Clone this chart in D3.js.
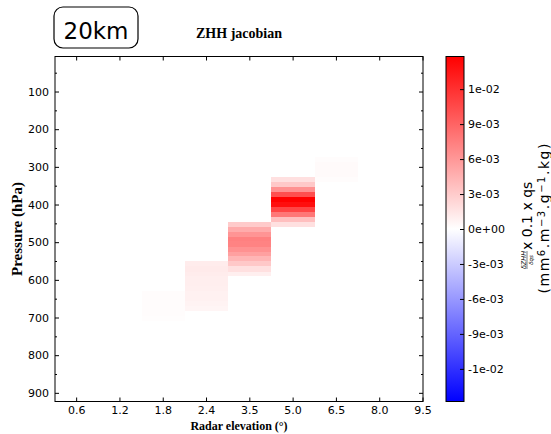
<!DOCTYPE html>
<html>
<head>
<meta charset="utf-8">
<script src="https://cdn.jsdelivr.net/npm/d3@7"></script>
<style>
  body { margin: 0; background: #fff; }
  .axis text { font-family: 'DejaVu Sans', sans-serif; font-size: 11px; fill: #000; }
  .axis line { stroke: #000; }
  .serif-bold { font-family: 'Liberation Serif', 'Times New Roman', serif; font-weight: bold; }
</style>
</head>
<body>
<svg id="chart"></svg>
<script>
const elevations = ['0.6', '1.2', '1.8', '2.4', '3.5', '5.0', '6.5', '8.0', '9.5'];
const pressureTicks = [100, 200, 300, 400, 500, 600, 700, 800, 900];
const pressureMinor = [50, 150, 250, 350, 450, 550, 650, 750, 850];

// model level edges (hPa), top to bottom
const levelEdges = [274, 287, 300, 313, 327, 340, 353, 366, 380, 393, 406, 419, 432,
  446, 459, 472, 485, 498, 512, 525, 538, 551, 564, 578, 591, 604, 617, 630, 644,
  657, 670, 683, 696, 710];

// jacobian per elevation, starting at level index `first`
const jac18 = [0.0002, 0.0002, 0.0002, 0.0002, 0.0002, 0.0001];
const jac24 = [0.0011, 0.0012, 0.0011, 0.0010, 0.0010, 0.0009, 0.0008, 0.0008, 0.0007, 0.0006];
const jac35 = [0.0030, 0.0049, 0.0062, 0.0074, 0.0072, 0.0064, 0.0055, 0.0043, 0.0032, 0.0018, 0.0009];
const jac50 = [0.0018, 0.0032, 0.0064, 0.0102, 0.0148, 0.0140, 0.0108, 0.0079, 0.0037, 0.0018];
const jac65 = [0.0002, 0.0003, 0.0003, 0.0003, 0.0002];

const colorbarTicks = [-0.012, -0.009, -0.006, -0.003, 0, 0.003, 0.006, 0.009, 0.012];
const colorbarLabels = ['-1e-02', '-9e-03', '-6e-03', '-3e-03', '0e+00', '3e-03', '6e-03', '9e-03', '1e-02'];
const vmax = 0.0148;

const bands = [
  { elev: '1.8', first: 27, values: jac18 },
  { elev: '2.4', first: 21, values: jac24 },
  { elev: '3.5', first: 13, values: jac35 },
  { elev: '5.0', first: 4, values: jac50 },
  { elev: '6.5', first: 0, values: jac65 },
];

const fullWidth = 551;
const fullHeight = 434;
const plot = { left: 55, right: 423, top: 56.5, bottom: 401.5 };

const svg = d3.select('#chart')
    .attr('width', fullWidth)
    .attr('height', fullHeight);

// columns are one unit wide, the axis stops half way into the last one
const unit = (plot.right - plot.left) / 8.5;
const x = d3.scaleBand()
    .domain(elevations)
    .range([plot.left, plot.left + (elevations.length * unit)])
    .paddingInner(0);

const y = d3.scaleLinear()
    .domain([7, 923])
    .range([plot.top, plot.bottom]);

const color = d3.scaleLinear()
    .domain([-vmax, 0, vmax])
    .range(['#0000ff', '#ffffff', '#ff0000']);

svg.append('clipPath')
    .attr('id', 'plot-clip')
  .append('rect')
    .attr('x', plot.left)
    .attr('y', plot.top)
    .attr('width', plot.right - plot.left)
    .attr('height', plot.bottom - plot.top);

svg.append('rect')
    .attr('x', plot.left)
    .attr('y', plot.top)
    .attr('width', plot.right - plot.left)
    .attr('height', plot.bottom - plot.top)
    .attr('fill', color(0));

// heatmap cells
const cells = [];
bands.forEach((b) => {
  b.values.forEach((v, i) => {
    const k = b.first + i;
    cells.push({ elev: b.elev, top: levelEdges[k], bottom: levelEdges[k + 1], value: v });
  });
});

svg.append('g')
    .attr('clip-path', 'url(#plot-clip)')
  .selectAll('rect')
    .data(cells)
  .enter().append('rect')
    .attr('x', d => x(d.elev))
    .attr('y', d => y(d.top))
    .attr('width', x.bandwidth())
    .attr('height', d => y(d.bottom) - y(d.top))
    .attr('fill', d => color(d.value))
    .attr('shape-rendering', 'crispEdges');

// axes, ticks pointing inward on all four sides
svg.append('g')
    .attr('class', 'axis')
    .attr('transform', `translate(0, ${plot.bottom})`)
    .call(d3.axisBottom(x).tickSize(-4).tickPadding(5));

svg.append('g')
    .attr('class', 'axis')
    .attr('transform', `translate(0, ${plot.top})`)
    .call(d3.axisTop(x).tickSize(-4).tickFormat(''));

svg.append('g')
    .attr('class', 'axis')
    .attr('transform', `translate(${plot.left}, 0)`)
    .call(d3.axisLeft(y).tickValues(pressureTicks).tickSize(-4).tickPadding(6));

svg.append('g')
    .attr('class', 'axis')
    .attr('transform', `translate(${plot.left}, 0)`)
    .call(d3.axisLeft(y).tickValues(pressureMinor).tickSize(-2).tickFormat(''));

svg.append('g')
    .attr('class', 'axis')
    .attr('transform', `translate(${plot.right}, 0)`)
    .call(d3.axisRight(y).tickValues(pressureTicks).tickSize(-4).tickFormat(''));

svg.append('g')
    .attr('class', 'axis')
    .attr('transform', `translate(${plot.right}, 0)`)
    .call(d3.axisRight(y).tickValues(pressureMinor).tickSize(-2).tickFormat(''));

svg.selectAll('.axis .domain').remove();

svg.append('rect')
    .attr('x', plot.left)
    .attr('y', plot.top)
    .attr('width', plot.right - plot.left)
    .attr('height', plot.bottom - plot.top)
    .attr('fill', 'none')
    .attr('stroke', '#000')
    .attr('stroke-width', 1);

// titles
svg.append('text')
    .attr('class', 'serif-bold')
    .attr('x', (plot.left + plot.right) / 2)
    .attr('y', 37.5)
    .attr('text-anchor', 'middle')
    .style('font-size', '14px')
    .text('ZHH jacobian');

svg.append('text')
    .attr('class', 'serif-bold')
    .attr('x', (plot.left + plot.right) / 2)
    .attr('y', 430)
    .attr('text-anchor', 'middle')
    .style('font-size', '12px')
    .text('Radar elevation (°)');

svg.append('text')
    .attr('class', 'serif-bold')
    .attr('transform', `translate(22, ${(plot.top + plot.bottom) / 2}) rotate(-90)`)
    .attr('text-anchor', 'middle')
    .style('font-size', '15px')
    .text('Pressure (hPa)');

// range box
svg.append('rect')
    .attr('x', 54)
    .attr('y', 7)
    .attr('width', 84)
    .attr('height', 41)
    .attr('rx', 9)
    .attr('fill', '#fff')
    .attr('stroke', '#000')
    .attr('stroke-width', 1.2);

svg.append('text')
    .attr('x', 96)
    .attr('y', 38.5)
    .attr('text-anchor', 'middle')
    .style('font-family', "'DejaVu Sans', sans-serif")
    .style('font-size', '23px')
    .text('20km');

// colorbar
const cb = { left: 446, right: 464 };
const cy = d3.scaleLinear()
    .domain([-vmax, vmax])
    .range([plot.bottom, plot.top]);

const grad = svg.append('defs')
  .append('linearGradient')
    .attr('id', 'bwr')
    .attr('x1', 0).attr('y1', 1)
    .attr('x2', 0).attr('y2', 0);

grad.selectAll('stop')
    .data([-vmax, 0, vmax])
  .enter().append('stop')
    .attr('offset', d => (d + vmax) / (2 * vmax))
    .attr('stop-color', d => color(d));

svg.append('rect')
    .attr('x', cb.left)
    .attr('y', plot.top)
    .attr('width', cb.right - cb.left)
    .attr('height', plot.bottom - plot.top)
    .attr('fill', 'url(#bwr)')
    .attr('stroke', '#000')
    .attr('stroke-width', 1);

svg.append('g')
    .attr('class', 'axis')
    .attr('transform', `translate(${cb.right}, 0)`)
    .call(d3.axisRight(cy)
      .tickValues(colorbarTicks)
      .tickFormat((d, i) => colorbarLabels[i])
      .tickSize(-4)
      .tickPadding(4))
  .select('.domain').remove();

// colorbar label, two rotated lines
const cbLabel = svg.append('g')
    .attr('transform', 'rotate(-90)')
    .style('font-family', "'DejaVu Sans', sans-serif");

const fracX = -260;
const base1 = 532;
cbLabel.append('text')
    .attr('x', fracX)
    .attr('y', base1 - 6.5)
    .attr('text-anchor', 'middle')
    .style('font-size', '6.5px')
    .style('font-style', 'italic')
    .text('δZHH');

cbLabel.append('line')
    .attr('x1', fracX - 9)
    .attr('x2', fracX + 9)
    .attr('y1', base1 - 5)
    .attr('y2', base1 - 5)
    .attr('stroke', '#000')
    .attr('stroke-width', 0.5);

cbLabel.append('text')
    .attr('x', fracX)
    .attr('y', base1 + 0.5)
    .attr('text-anchor', 'middle')
    .style('font-size', '5.5px')
    .style('font-style', 'italic')
    .text('δqs');

cbLabel.append('text')
    .attr('x', -250)
    .attr('y', base1)
    .style('font-size', '14px')
    .text('x 0.1 x qs');

const line2 = cbLabel.append('text')
    .attr('x', -218.5)
    .attr('y', 549)
    .attr('text-anchor', 'middle')
    .attr('textLength', 150)
    .attr('lengthAdjust', 'spacing')
    .style('font-size', '14px');

[['(mm', 0], ['6', 1], ['.m', 0], ['−3', 1], ['.g', 0], ['−1', 1], ['.kg)', 0]].forEach(([t, sup]) => {
  line2.append('tspan')
      .attr('baseline-shift', sup ? '40%' : '0%')
      .style('font-size', sup ? '10px' : '14px')
      .text(t);
});
</script>
</body>
</html>
